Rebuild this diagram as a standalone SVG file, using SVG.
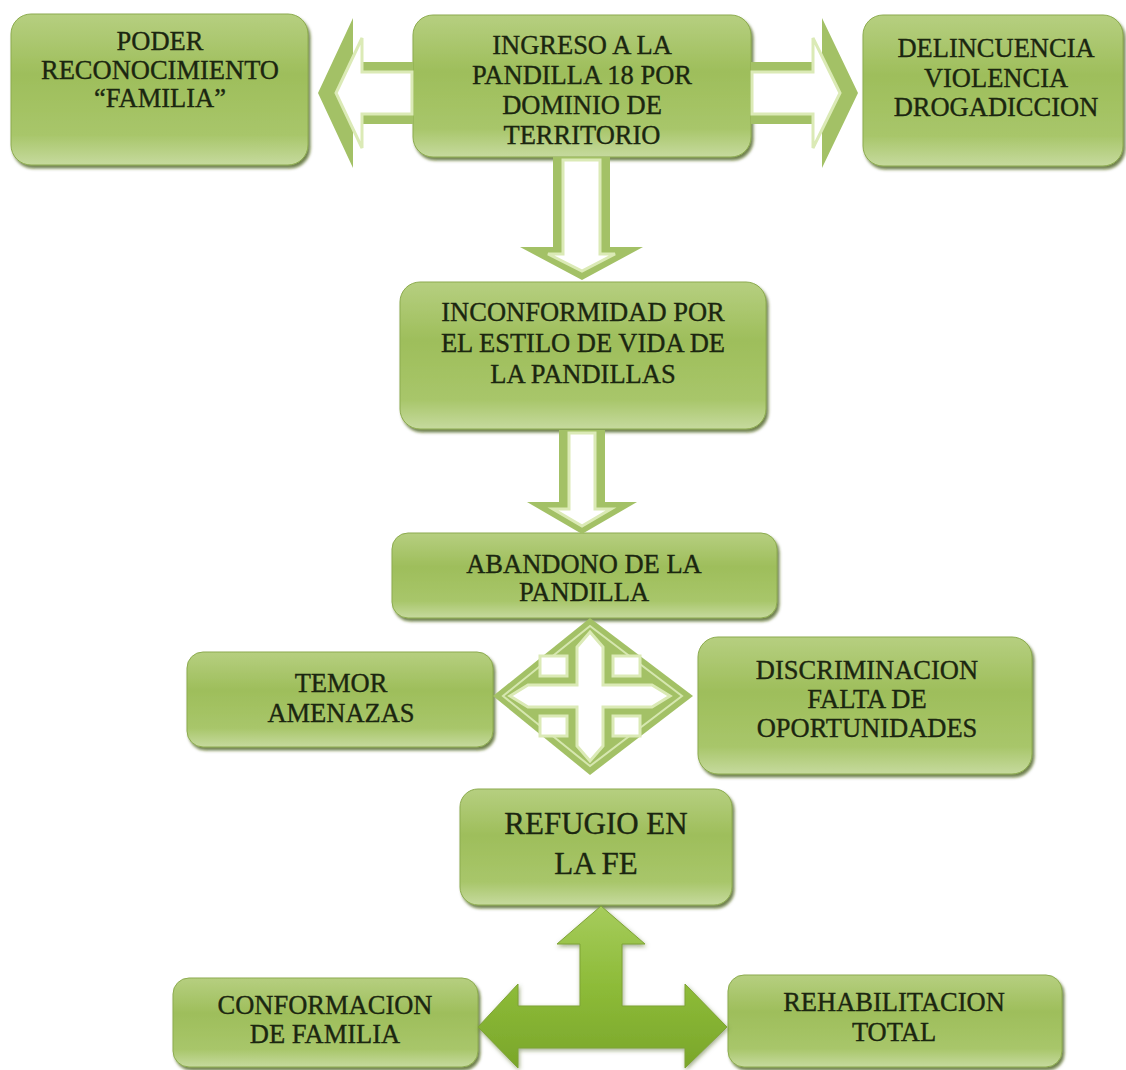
<svg xmlns="http://www.w3.org/2000/svg" width="1126" height="1070" viewBox="0 0 1126 1070">
<defs>
<linearGradient id="boxg" x1="0" y1="0" x2="0" y2="1">
<stop offset="0" stop-color="#b6cf80"/>
<stop offset="0.4" stop-color="#9ebe5b"/>
<stop offset="0.8" stop-color="#a8c66a"/>
<stop offset="1" stop-color="#c6da9e"/>
</linearGradient>
<linearGradient id="tg" x1="0" y1="0" x2="0" y2="1">
<stop offset="0" stop-color="#a6cc5c"/>
<stop offset="0.5" stop-color="#8dbb38"/>
<stop offset="1" stop-color="#7aa62a"/>
</linearGradient>
<filter id="sh" x="-10%" y="-10%" width="125%" height="130%">
<feDropShadow dx="2" dy="3" stdDeviation="1.5" flood-color="#3f5a18" flood-opacity="0.75"/>
</filter>
<filter id="sh2" x="-10%" y="-10%" width="125%" height="130%">
<feDropShadow dx="1" dy="2" stdDeviation="2" flood-color="#3f5a18" flood-opacity="0.5"/>
</filter>
</defs>
<style>
.box{fill:url(#boxg);stroke:#8cab4e;stroke-width:1;filter:url(#sh)}
.t{font-family:"Liberation Serif","Times New Roman","DejaVu Serif",serif;font-size:26.5px;fill:#1b2610;stroke:#1b2610;stroke-width:0.35px;text-anchor:middle}
.big{font-size:31px}
.ao{fill:#a3c166}
.ai{fill:#ffffff;stroke:#dbeab6;stroke-width:3;stroke-linejoin:miter}
.sq{fill:#ffffff;stroke:#dbeab6;stroke-width:3}
.dl{fill:none;stroke:#d6e7b0;stroke-width:2}
.solid{fill:url(#tg);stroke:#7ea335;stroke-width:1;filter:url(#sh2)}
</style>
<rect width="1126" height="1070" fill="#ffffff"/>

<g id="node-poder">
<rect class="box" x="11" y="14" width="297" height="151" rx="20"/>
<text class="t" x="160" y="50">PODER</text>
<text class="t" x="160" y="79">RECONOCIMIENTO</text>
<text class="t" x="160" y="107">“FAMILIA”</text>
</g>
<g id="node-ingreso">
<rect class="box" x="413" y="15" width="338" height="142" rx="20"/>
<text class="t" x="582" y="54">INGRESO A LA</text>
<text class="t" x="582" y="84">PANDILLA 18 POR</text>
<text class="t" x="582" y="114">DOMINIO DE</text>
<text class="t" x="582" y="144">TERRITORIO</text>
</g>
<g id="node-delincuencia">
<rect class="box" x="863" y="15" width="260" height="151" rx="20"/>
<text class="t" x="996" y="57">DELINCUENCIA</text>
<text class="t" x="996" y="87">VIOLENCIA</text>
<text class="t" x="996" y="116">DROGADICCION</text>
</g>
<g id="node-inconformidad">
<rect class="box" x="400" y="282" width="366" height="147" rx="20"/>
<text class="t" x="583" y="321">INCONFORMIDAD POR</text>
<text class="t" x="583" y="352">EL ESTILO DE VIDA DE</text>
<text class="t" x="583" y="383">LA PANDILLAS</text>
</g>
<g id="node-abandono">
<rect class="box" x="392" y="533" width="385" height="85" rx="16"/>
<text class="t" x="584" y="573">ABANDONO DE LA</text>
<text class="t" x="584" y="601">PANDILLA</text>
</g>
<g id="node-temor">
<rect class="box" x="187" y="652" width="306" height="95" rx="16"/>
<text class="t" x="341" y="692">TEMOR</text>
<text class="t" x="341" y="722">AMENAZAS</text>
</g>
<g id="node-discriminacion">
<rect class="box" x="698" y="637" width="334" height="137" rx="20"/>
<text class="t" x="867" y="679">DISCRIMINACION</text>
<text class="t" x="867" y="708">FALTA DE</text>
<text class="t" x="867" y="737">OPORTUNIDADES</text>
</g>
<g id="node-refugio">
<rect class="box" x="460" y="789" width="272" height="116" rx="18"/>
<text class="t big" x="596" y="834">REFUGIO EN</text>
<text class="t big" x="596" y="874">LA FE</text>
</g>
<g id="node-conformacion">
<rect class="box" x="173" y="978" width="305" height="89" rx="16"/>
<text class="t" x="325" y="1014">CONFORMACION</text>
<text class="t" x="325" y="1043">DE FAMILIA</text>
</g>
<g id="node-rehabilitacion">
<rect class="box" x="728" y="975" width="334" height="92" rx="16"/>
<text class="t" x="894" y="1011">REHABILITACION</text>
<text class="t" x="894" y="1041">TOTAL</text>
</g>

<g id="connectors">
<g id="arrow-left">
<polygon class="ao" points="318,93 353,18 353,62 413,62 413,124 353,124 353,168"/>
<polygon class="ai" points="336,93 362,38 362,72 412,72 412,114 362,114 362,148"/>
</g>
<g id="arrow-right">
<polygon class="ao" points="858,93 822,18 822,62 751,62 751,124 822,124 822,168"/>
<polygon class="ai" points="840,93 813,38 813,72 752,72 752,114 813,114 813,148"/>
</g>
<g id="arrow-down1">
<polygon class="ao" points="553,157 610,157 610,247 643,247 582,280 520,247 553,247"/>
<polygon class="ai" points="563,160 600,160 600,254 615,254 582,271 548,254 563,254"/>
</g>
<g id="arrow-down2">
<polygon class="ao" points="559,430 605,430 605,502 637,502 582,534 527,502 559,502"/>
<polygon class="ai" points="569,433 595,433 595,509 611,509 582,526 553,509 569,509"/>
</g>
<g id="arrow-quad">
<polygon class="ao" points="590,618 693,696 590,775 493,696"/>
<polygon class="dl" points="590,626 682,696 590,766 503,696"/>
<polygon class="ai" points="590,632 603,647 603,685 652,685 670,696 652,707 603,707 603,746 590,761 577,746 577,707 528,707 510,696 528,685 577,685 577,647"/>
<rect class="sq" x="540" y="656" width="27" height="20"/>
<rect class="sq" x="613" y="656" width="27" height="20"/>
<rect class="sq" x="540" y="716" width="27" height="20"/>
<rect class="sq" x="613" y="716" width="27" height="20"/>
</g>
<g id="arrow-t">
<polygon class="solid" points="601,906 645,944 622,944 622,1006 685,1006 685,984 727,1027 685,1068 685,1048 518,1048 518,1068 478,1027 518,984 518,1006 580,1006 580,944 557,944"/>
</g>
</g>
</svg>
